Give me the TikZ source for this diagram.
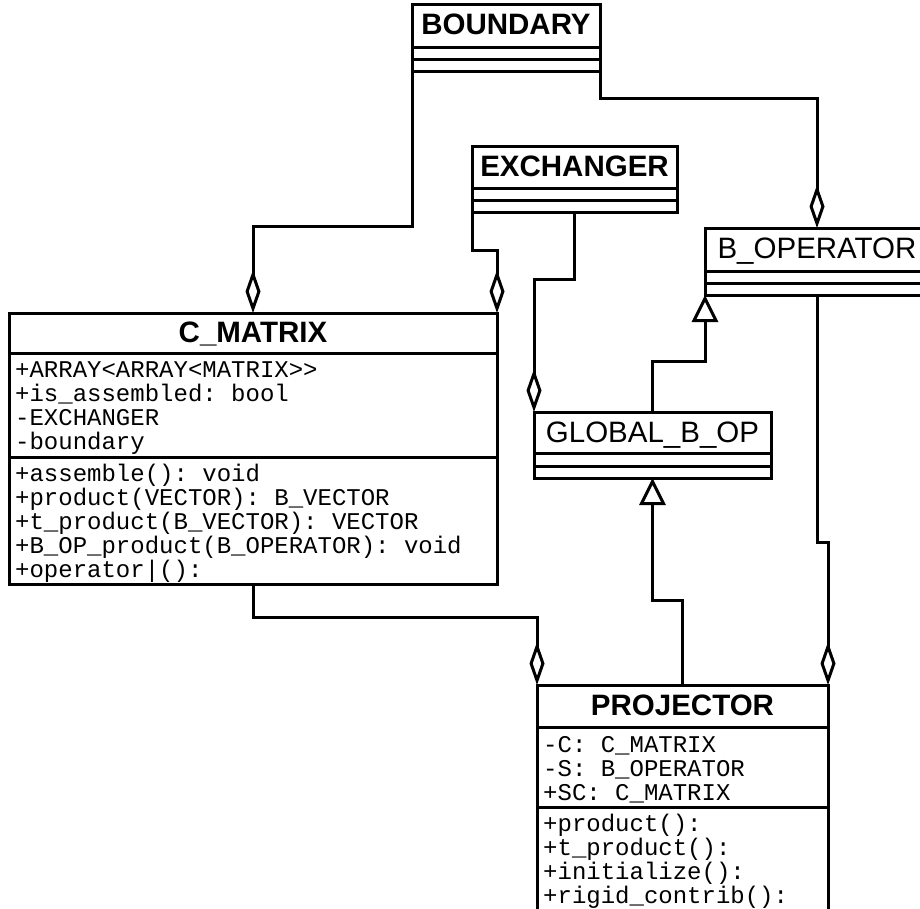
\documentclass[tikz,border=0pt]{standalone}
\usepackage{fontspec}
\setmainfont{Liberation Sans}
\setmonofont{Liberation Mono}
\usetikzlibrary{arrows.meta}
\begin{document}
\begin{tikzpicture}[x=1pt,y=-1pt,
  cls/.style={draw, line width=3pt, fill=white, inner sep=0pt, outer sep=0pt, anchor=north west},
  ttlb/.style={font=\bfseries\fontsize{29.5}{30}\selectfont, anchor=base, inner sep=0pt},
  ttl/.style={font=\fontsize{29.5}{30}\selectfont, anchor=base, inner sep=0pt},
  mono/.style={font=\ttfamily\fontsize{24}{24}\selectfont, anchor=base west, inner sep=0pt},
  sepline/.style={line width=3pt},
  conn/.style={line width=3pt},
  agg/.style={conn, -{Diamond[open,length=43pt,width=15pt]}},
  gen/.style={conn, -{Triangle[open,length=27pt,width=26pt]}}]
\useasboundingbox (0,0) rectangle (920,908);

% class boxes
\node[cls, minimum width=188pt, minimum height=67pt] (bnd) at (412,4) {};
\node[cls, minimum width=205pt, minimum height=66pt] (ex) at (472,146) {};
\node[cls, minimum width=224pt, minimum height=67pt] (bo) at (705,228) {};
\node[cls, minimum width=237pt, minimum height=66pt] (gb) at (534,412) {};
\node[cls, minimum width=488pt, minimum height=271pt] (cm) at (9,313) {};
\node[cls, minimum width=291pt, minimum height=227pt] (pj) at (537,685) {};

% compartment separators
\draw[sepline] (bnd.west |- 0,47) -- (bnd.east |- 0,47);
\draw[sepline] (bnd.west |- 0,59) -- (bnd.east |- 0,59);
\draw[sepline] (ex.west |- 0,188) -- (ex.east |- 0,188);
\draw[sepline] (ex.west |- 0,200) -- (ex.east |- 0,200);
\draw[sepline] (bo.west |- 0,271) -- (bo.east |- 0,271);
\draw[sepline] (bo.west |- 0,283) -- (bo.east |- 0,283);
\draw[sepline] (gb.west |- 0,453) -- (gb.east |- 0,453);
\draw[sepline] (gb.west |- 0,466) -- (gb.east |- 0,466);
\draw[sepline] (cm.west |- 0,353) -- (cm.east |- 0,353);
\draw[sepline] (cm.west |- 0,457) -- (cm.east |- 0,457);
\draw[sepline] (pj.west |- 0,727) -- (pj.east |- 0,727);
\draw[sepline] (pj.west |- 0,807) -- (pj.east |- 0,807);

% titles
\node[ttlb] (bndT) at (506,34) {BOUNDARY};
\node[ttlb] (exT) at (574.5,176) {EXCHANGER};
\node[ttl] (boT) at (817,258) {B\_OPERATOR};
\node[ttl] (gbT) at (652.5,442) {GLOBAL\_B\_OP};
\node[ttlb] (cmT) at (253,342) {C\_MATRIX};
\node[ttlb] (pjT) at (682.5,715) {PROJECTOR};

% C_MATRIX members
\foreach \t [count=\i] in {+ARRAY<ARRAY<MATRIX>>, +is\_assembled: bool, -EXCHANGER, -boundary}
  \node[mono] (cma\i) at (15,{377.5+24*(\i-1)}) {\t};
\foreach \t [count=\i] in {+assemble(): void, +product(VECTOR): B\_VECTOR, +t\_product(B\_VECTOR): VECTOR, +B\_OP\_product(B\_OPERATOR): void, +operator|():}
  \node[mono] (cmo\i) at (15,{481+24*(\i-1)}) {\t};

% PROJECTOR members
\foreach \t [count=\i] in {-C: C\_MATRIX, -S: B\_OPERATOR, +SC: C\_MATRIX}
  \node[mono] (pja\i) at (543,{752+24*(\i-1)}) {\t};
\foreach \t [count=\i] in {+product():, +t\_product():, +initialize():, +rigid\_contrib():}
  \node[mono] (pjo\i) at (543,{831+24*(\i-1)}) {\t};

% connectors
\draw[agg] (bnd.south west) -- ++(0,155) -| (cm.north);
\draw[agg] (bnd.south east) -- ++(0,27) -| (bo.north);
\draw[agg] (ex.south west) -- ++(0,38) -| (cm.north east);
\draw[agg] (ex.south) -- ++(0,67) -| (gb.north west);
\draw[agg] (bo.south) -- ++(0,247) -| (pj.north east);
\draw[gen] (gb.north) -- ++(0,-51) -| (bo.south west);
\draw[gen] (pj.north) -- ++(0,-85) -| (gb.south);
\draw[agg] (cm.south) -- ++(0,33) -| (pj.north west);
\end{tikzpicture}
\end{document}
